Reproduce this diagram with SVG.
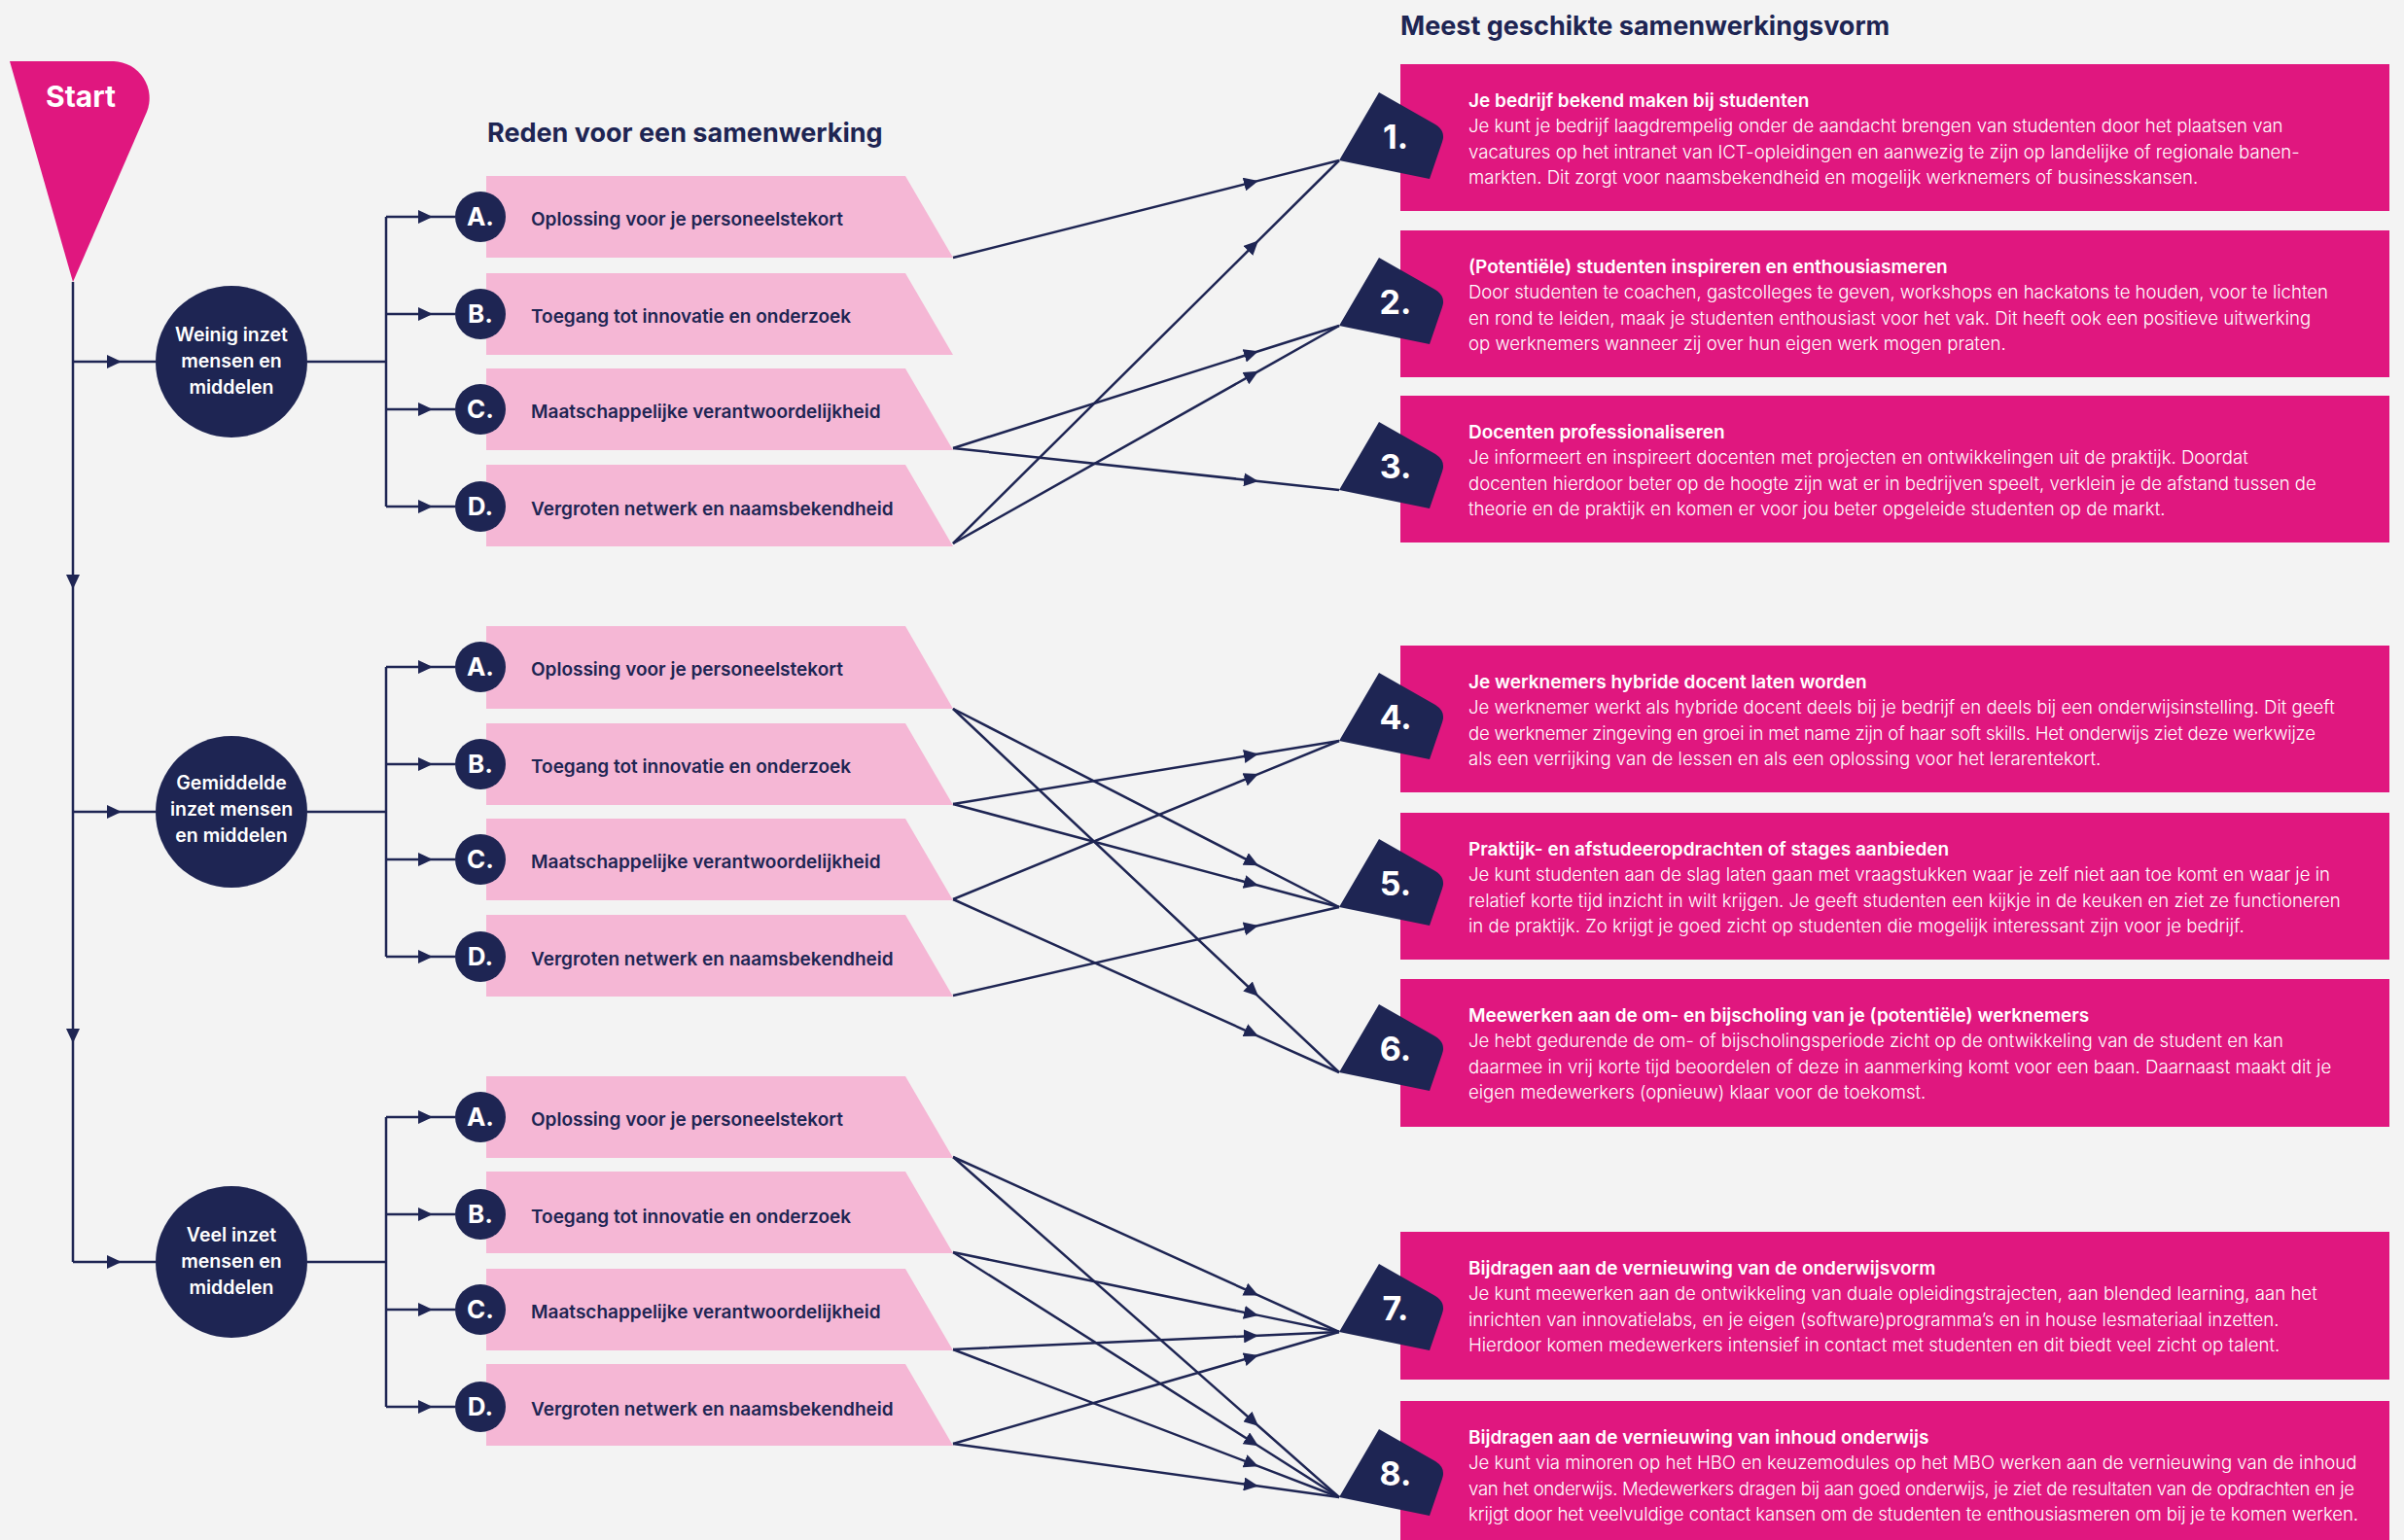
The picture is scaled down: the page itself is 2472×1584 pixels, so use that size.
<svg xmlns="http://www.w3.org/2000/svg" width="2472" height="1584" viewBox="0 0 2472 1584">
<defs>
<style>
.bg{fill:#F3F3F3}
.ln{fill:none;stroke:#1E2553;stroke-width:2.5}
.am{marker-mid:url(#ah)}
.navy{fill:#1E2553}
.mag{fill:#E0177F}
.pk{fill:#F5B7D5}
.h{font-family:Inter,"Noto Sans",sans-serif;font-weight:700;fill:#1E2553;font-size:27px}
.rt{font-family:Inter,"Noto Sans",sans-serif;font-weight:600;fill:#1E2553;font-size:19px}
.lt{font-family:Inter,"Noto Sans",sans-serif;font-weight:700;fill:#fff;font-size:26px;text-anchor:middle}
.ct{font-family:Inter,"Noto Sans",sans-serif;font-weight:600;fill:#fff;font-size:19.5px;text-anchor:middle}
.nt{font-family:Inter,"Noto Sans",sans-serif;font-weight:700;fill:#fff;font-size:34px;text-anchor:middle}
.bt{font-family:Inter,"Noto Sans",sans-serif;font-weight:600;fill:#fff;font-size:19px}
.bb{font-family:Inter,"Noto Sans",sans-serif;font-weight:300;fill:#fff;font-size:18.6px}
</style>
<marker id="ah" viewBox="0 0 15 14" refX="15" refY="7" markerWidth="15" markerHeight="14" markerUnits="userSpaceOnUse" orient="auto"><path d="M0,0 L15,7 L0,14 Z" fill="#1E2553"/></marker>
<path id="badge" d="M0,0 L41,-70 L99,-37 Q110,-30 106,-19 L93,19 Z"/>
</defs>
<rect class="bg" x="0" y="0" width="2472" height="1584"/>

<text class="h" x="501" y="146">Reden voor een samenwerking</text>
<text class="h" x="1440" y="36">Meest geschikte samenwerkingsvorm</text>

<g id="start">
<path class="mag" d="M10,63 L117,63 A38,38 0 0 1 151,115 L75,290 Z"/>
<text x="83" y="110" font-family="Inter, 'Noto Sans', sans-serif" font-weight="700" font-size="30" fill="#fff" text-anchor="middle">Start</text>
</g>

<g id="connectors">
<path class="ln am" d="M75,290 L75,606 L75,1073 L75,1298"/>
<path class="ln am" d="M75,372 L125,372 L160,372"/>
<path class="ln am" d="M75,835 L125,835 L160,835"/>
<path class="ln am" d="M75,1298 L125,1298 L160,1298"/>
<path class="ln" d="M316,372 L397,372 M397,223 L397,521 M316,835 L397,835 M397,686 L397,984 M316,1298 L397,1298 M397,1149 L397,1447"/>
<path class="ln am" d="M397,223 L445,223 L468,223"/>
<path class="ln am" d="M397,323 L445,323 L468,323"/>
<path class="ln am" d="M397,421 L445,421 L468,421"/>
<path class="ln am" d="M397,521 L445,521 L468,521"/>
<path class="ln am" d="M397,686 L445,686 L468,686"/>
<path class="ln am" d="M397,786 L445,786 L468,786"/>
<path class="ln am" d="M397,884 L445,884 L468,884"/>
<path class="ln am" d="M397,984 L445,984 L468,984"/>
<path class="ln am" d="M397,1149 L445,1149 L468,1149"/>
<path class="ln am" d="M397,1249 L445,1249 L468,1249"/>
<path class="ln am" d="M397,1347 L445,1347 L468,1347"/>
<path class="ln am" d="M397,1447 L445,1447 L468,1447"/>
<!-- group 1 -->
<path class="ln am" d="M980,265 L1294,185.9 L1377,165"/>
<path class="ln am" d="M980,461 L1294,361.3 L1377,335"/>
<path class="ln am" d="M980,461 L1294,495 L1377,504"/>
<path class="ln am" d="M980,559 L1294,247.4 L1377,165"/>
<path class="ln am" d="M980,559 L1294,381.8 L1377,335"/>
<!-- group 2 -->
<path class="ln am" d="M980,729 L1294,890.3 L1377,933"/>
<path class="ln am" d="M980,729 L1294,1024.8 L1377,1103"/>
<path class="ln am" d="M980,827 L1294,775.6 L1377,762"/>
<path class="ln am" d="M980,827 L1294,910.8 L1377,933"/>
<path class="ln am" d="M980,925 L1294,796.1 L1377,762"/>
<path class="ln am" d="M980,925 L1294,1065.8 L1377,1103"/>
<path class="ln am" d="M980,1024 L1294,952 L1377,933"/>
<!-- group 3 -->
<path class="ln am" d="M980,1190 L1294,1332.4 L1377,1370"/>
<path class="ln am" d="M980,1190 L1294,1466.8 L1377,1540"/>
<path class="ln am" d="M980,1288 L1294,1352.9 L1377,1370"/>
<path class="ln am" d="M980,1288 L1294,1487.3 L1377,1540"/>
<path class="ln am" d="M980,1388 L1294,1373.8 L1377,1370"/>
<path class="ln am" d="M980,1388 L1294,1508.2 L1377,1540"/>
<path class="ln am" d="M980,1485 L1294,1394 L1377,1370"/>
<path class="ln am" d="M980,1485 L1294,1528.5 L1377,1540"/>
</g>

<g id="level-1">
<circle class="navy" cx="238" cy="372" r="78"/>
<text class="ct" x="238" y="351">Weinig inzet</text>
<text class="ct" x="238" y="378">mensen en</text>
<text class="ct" x="238" y="405">middelen</text>
</g>
<g id="level-2">
<circle class="navy" cx="238" cy="835" r="78"/>
<text class="ct" x="238" y="812">Gemiddelde</text>
<text class="ct" x="238" y="839">inzet mensen</text>
<text class="ct" x="238" y="866">en middelen</text>
</g>
<g id="level-3">
<circle class="navy" cx="238" cy="1298" r="78"/>
<text class="ct" x="238" y="1277">Veel inzet</text>
<text class="ct" x="238" y="1304">mensen en</text>
<text class="ct" x="238" y="1331">middelen</text>
</g>

<g id="g1-A"><path class="pk" d="M500,181 L931,181 L980,265 L500,265 Z"/><circle class="navy" cx="494" cy="223" r="26"/><text class="lt" x="494" y="232">A.</text><text class="rt" x="546" y="232">Oplossing voor je personeelstekort</text></g>
<g id="g1-B"><path class="pk" d="M500,281 L931,281 L980,365 L500,365 Z"/><circle class="navy" cx="494" cy="323" r="26"/><text class="lt" x="494" y="332">B.</text><text class="rt" x="546" y="332">Toegang tot innovatie en onderzoek</text></g>
<g id="g1-C"><path class="pk" d="M500,379 L931,379 L980,463 L500,463 Z"/><circle class="navy" cx="494" cy="421" r="26"/><text class="lt" x="494" y="430">C.</text><text class="rt" x="546" y="430">Maatschappelijke verantwoordelijkheid</text></g>
<g id="g1-D"><path class="pk" d="M500,478 L931,478 L980,562 L500,562 Z"/><circle class="navy" cx="494" cy="521" r="26"/><text class="lt" x="494" y="530">D.</text><text class="rt" x="546" y="530">Vergroten netwerk en naamsbekendheid</text></g>

<g id="g2-A"><path class="pk" d="M500,644 L931,644 L980,729 L500,729 Z"/><circle class="navy" cx="494" cy="686" r="26"/><text class="lt" x="494" y="695">A.</text><text class="rt" x="546" y="695">Oplossing voor je personeelstekort</text></g>
<g id="g2-B"><path class="pk" d="M500,744 L931,744 L980,828 L500,828 Z"/><circle class="navy" cx="494" cy="786" r="26"/><text class="lt" x="494" y="795">B.</text><text class="rt" x="546" y="795">Toegang tot innovatie en onderzoek</text></g>
<g id="g2-C"><path class="pk" d="M500,842 L931,842 L980,926 L500,926 Z"/><circle class="navy" cx="494" cy="884" r="26"/><text class="lt" x="494" y="893">C.</text><text class="rt" x="546" y="893">Maatschappelijke verantwoordelijkheid</text></g>
<g id="g2-D"><path class="pk" d="M500,941 L931,941 L980,1025 L500,1025 Z"/><circle class="navy" cx="494" cy="984" r="26"/><text class="lt" x="494" y="993">D.</text><text class="rt" x="546" y="993">Vergroten netwerk en naamsbekendheid</text></g>

<g id="g3-A"><path class="pk" d="M500,1107 L931,1107 L980,1191 L500,1191 Z"/><circle class="navy" cx="494" cy="1149" r="26"/><text class="lt" x="494" y="1158">A.</text><text class="rt" x="546" y="1158">Oplossing voor je personeelstekort</text></g>
<g id="g3-B"><path class="pk" d="M500,1205 L931,1205 L980,1289 L500,1289 Z"/><circle class="navy" cx="494" cy="1249" r="26"/><text class="lt" x="494" y="1258">B.</text><text class="rt" x="546" y="1258">Toegang tot innovatie en onderzoek</text></g>
<g id="g3-C"><path class="pk" d="M500,1305 L931,1305 L980,1389 L500,1389 Z"/><circle class="navy" cx="494" cy="1347" r="26"/><text class="lt" x="494" y="1356">C.</text><text class="rt" x="546" y="1356">Maatschappelijke verantwoordelijkheid</text></g>
<g id="g3-D"><path class="pk" d="M500,1403 L931,1403 L980,1487 L500,1487 Z"/><circle class="navy" cx="494" cy="1447" r="26"/><text class="lt" x="494" y="1456">D.</text><text class="rt" x="546" y="1456">Vergroten netwerk en naamsbekendheid</text></g>

<g id="form-1">
<rect class="mag" x="1440" y="66" width="1017" height="151"/>
<use href="#badge" class="navy" x="1377" y="165"/>
<text class="nt" x="1435" y="153">1.</text>
<text class="bt" x="1510" y="110">Je bedrijf bekend maken bij studenten</text>
<text class="bb" x="1510" y="136">Je kunt je bedrijf laagdrempelig onder de aandacht brengen van studenten door het plaatsen van</text>
<text class="bb" x="1510" y="163">vacatures op het intranet van ICT-opleidingen en aanwezig te zijn op landelijke of regionale banen-</text>
<text class="bb" x="1510" y="189">markten. Dit zorgt voor naamsbekendheid en mogelijk werknemers of businesskansen.</text>
</g>
<g id="form-2">
<rect class="mag" x="1440" y="237" width="1017" height="151"/>
<use href="#badge" class="navy" x="1377" y="335"/>
<text class="nt" x="1435" y="323">2.</text>
<text class="bt" x="1510" y="281">(Potentiële) studenten inspireren en enthousiasmeren</text>
<text class="bb" x="1510" y="307" textLength="884" lengthAdjust="spacing">Door studenten te coachen, gastcolleges te geven, workshops en hackatons te houden, voor te lichten</text>
<text class="bb" x="1510" y="334">en rond te leiden, maak je studenten enthousiast voor het vak. Dit heeft ook een positieve uitwerking</text>
<text class="bb" x="1510" y="360">op werknemers wanneer zij over hun eigen werk mogen praten.</text>
</g>
<g id="form-3">
<rect class="mag" x="1440" y="407" width="1017" height="151"/>
<use href="#badge" class="navy" x="1377" y="504"/>
<text class="nt" x="1435" y="492">3.</text>
<text class="bt" x="1510" y="451">Docenten professionaliseren</text>
<text class="bb" x="1510" y="477">Je informeert en inspireert docenten met projecten en ontwikkelingen uit de praktijk. Doordat</text>
<text class="bb" x="1510" y="504">docenten hierdoor beter op de hoogte zijn wat er in bedrijven speelt, verklein je de afstand tussen de</text>
<text class="bb" x="1510" y="530">theorie en de praktijk en komen er voor jou beter opgeleide studenten op de markt.</text>
</g>
<g id="form-4">
<rect class="mag" x="1440" y="664" width="1017" height="151"/>
<use href="#badge" class="navy" x="1377" y="762"/>
<text class="nt" x="1435" y="750">4.</text>
<text class="bt" x="1510" y="708">Je werknemers hybride docent laten worden</text>
<text class="bb" x="1510" y="734">Je werknemer werkt als hybride docent deels bij je bedrijf en deels bij een onderwijsinstelling. Dit geeft</text>
<text class="bb" x="1510" y="761" textLength="871" lengthAdjust="spacing">de werknemer zingeving en groei in met name zijn of haar soft skills. Het onderwijs ziet deze werkwijze</text>
<text class="bb" x="1510" y="787">als een verrijking van de lessen en als een oplossing voor het lerarentekort.</text>
</g>
<g id="form-5">
<rect class="mag" x="1440" y="836" width="1017" height="151"/>
<use href="#badge" class="navy" x="1377" y="933"/>
<text class="nt" x="1435" y="921">5.</text>
<text class="bt" x="1510" y="880">Praktijk- en afstudeeropdrachten of stages aanbieden</text>
<text class="bb" x="1510" y="906">Je kunt studenten aan de slag laten gaan met vraagstukken waar je zelf niet aan toe komt en waar je in</text>
<text class="bb" x="1510" y="933">relatief korte tijd inzicht in wilt krijgen. Je geeft studenten een kijkje in de keuken en ziet ze functioneren</text>
<text class="bb" x="1510" y="959">in de praktijk. Zo krijgt je goed zicht op studenten die mogelijk interessant zijn voor je bedrijf.</text>
</g>
<g id="form-6">
<rect class="mag" x="1440" y="1007" width="1017" height="152"/>
<use href="#badge" class="navy" x="1377" y="1103"/>
<text class="nt" x="1435" y="1091">6.</text>
<text class="bt" x="1510" y="1051">Meewerken aan de om- en bijscholing van je (potentiële) werknemers</text>
<text class="bb" x="1510" y="1077" textLength="838" lengthAdjust="spacing">Je hebt gedurende de om- of bijscholingsperiode zicht op de ontwikkeling van de student en kan</text>
<text class="bb" x="1510" y="1104">daarmee in vrij korte tijd beoordelen of deze in aanmerking komt voor een baan. Daarnaast maakt dit je</text>
<text class="bb" x="1510" y="1130">eigen medewerkers (opnieuw) klaar voor de toekomst.</text>
</g>
<g id="form-7">
<rect class="mag" x="1440" y="1267" width="1017" height="152"/>
<use href="#badge" class="navy" x="1377" y="1370"/>
<text class="nt" x="1435" y="1358">7.</text>
<text class="bt" x="1510" y="1311">Bijdragen aan de vernieuwing van de onderwijsvorm</text>
<text class="bb" x="1510" y="1337">Je kunt meewerken aan de ontwikkeling van duale opleidingstrajecten, aan blended learning, aan het</text>
<text class="bb" x="1510" y="1364">inrichten van innovatielabs, en je eigen (software)programma’s en in house lesmateriaal inzetten.</text>
<text class="bb" x="1510" y="1390">Hierdoor komen medewerkers intensief in contact met studenten en dit biedt veel zicht op talent.</text>
</g>
<g id="form-8">
<rect class="mag" x="1440" y="1441" width="1017" height="151"/>
<use href="#badge" class="navy" x="1377" y="1540"/>
<text class="nt" x="1435" y="1528">8.</text>
<text class="bt" x="1510" y="1485">Bijdragen aan de vernieuwing van inhoud onderwijs</text>
<text class="bb" x="1510" y="1511">Je kunt via minoren op het HBO en keuzemodules op het MBO werken aan de vernieuwing van de inhoud</text>
<text class="bb" x="1510" y="1538" textLength="911" lengthAdjust="spacing">van het onderwijs. Medewerkers dragen bij aan goed onderwijs, je ziet de resultaten van de opdrachten en je</text>
<text class="bb" x="1510" y="1564" textLength="915" lengthAdjust="spacing">krijgt door het veelvuldige contact kansen om de studenten te enthousiasmeren om bij je te komen werken.</text>
</g>
</svg>
